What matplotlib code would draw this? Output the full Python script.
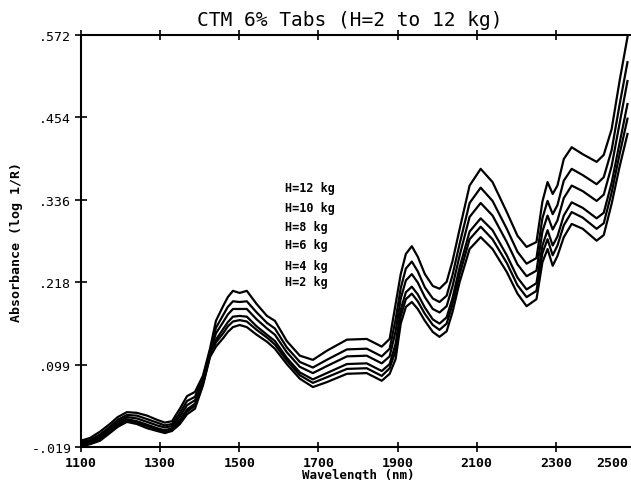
import numpy as np
import matplotlib
matplotlib.use("Agg")
import matplotlib.pyplot as plt

# wavelengths (nm)
wavelength = [1100, 1123, 1148, 1173, 1193, 1216, 1241, 1267, 1292, 1312,
              1330, 1350, 1368, 1388, 1408, 1426, 1441, 1459, 1471, 1484,
              1501, 1519, 1544, 1570, 1590, 1620, 1653, 1686, 1721, 1772,
              1822, 1860, 1880, 1895, 1908, 1921, 1936, 1951, 1969, 1989,
              2006, 2024, 2039, 2057, 2082, 2110, 2140, 2176, 2203, 2226,
              2251, 2266, 2279, 2292, 2304, 2320, 2340, 2368, 2403, 2421,
              2441, 2461, 2481]

# absorbance (log 1/R), one list per compression force
h12 = [-0.010, -0.006, 0.003, 0.014, 0.024, 0.031, 0.030, 0.026, 0.020, 0.016,
       0.018, 0.036, 0.054, 0.060, 0.083, 0.122, 0.162, 0.183, 0.196, 0.205,
       0.202, 0.205, 0.186, 0.169, 0.162, 0.133, 0.112, 0.106, 0.119, 0.135,
       0.136, 0.125, 0.136, 0.186, 0.229, 0.258, 0.269, 0.254, 0.229, 0.212,
       0.208, 0.218, 0.248, 0.294, 0.356, 0.380, 0.361, 0.318, 0.284, 0.268,
       0.275, 0.333, 0.361, 0.344, 0.356, 0.394, 0.411, 0.401, 0.390, 0.400,
       0.437, 0.506, 0.569]
h10 = [-0.012, -0.009, -0.001, 0.010, 0.020, 0.027, 0.026, 0.021, 0.016, 0.012,
       0.014, 0.030, 0.047, 0.053, 0.079, 0.119, 0.152, 0.170, 0.182, 0.190,
       0.189, 0.190, 0.174, 0.159, 0.151, 0.124, 0.103, 0.095, 0.106, 0.121,
       0.122, 0.111, 0.122, 0.164, 0.209, 0.237, 0.247, 0.233, 0.210, 0.194,
       0.189, 0.198, 0.228, 0.273, 0.331, 0.353, 0.334, 0.294, 0.261, 0.244,
       0.252, 0.309, 0.334, 0.315, 0.328, 0.363, 0.380, 0.371, 0.358, 0.368,
       0.407, 0.472, 0.533]
h8 = [-0.014, -0.011, -0.004, 0.008, 0.017, 0.024, 0.022, 0.017, 0.012, 0.009,
      0.011, 0.025, 0.041, 0.048, 0.076, 0.116, 0.144, 0.160, 0.171, 0.179,
      0.179, 0.179, 0.164, 0.151, 0.142, 0.117, 0.096, 0.087, 0.097, 0.111,
      0.112, 0.101, 0.111, 0.147, 0.194, 0.220, 0.229, 0.217, 0.196, 0.179,
      0.174, 0.183, 0.212, 0.256, 0.311, 0.331, 0.313, 0.275, 0.243, 0.226,
      0.234, 0.290, 0.313, 0.293, 0.306, 0.338, 0.356, 0.348, 0.334, 0.343,
      0.384, 0.445, 0.506]
h6 = [-0.016, -0.012, -0.006, 0.005, 0.014, 0.021, 0.018, 0.013, 0.008, 0.005,
      0.008, 0.020, 0.035, 0.043, 0.073, 0.113, 0.135, 0.150, 0.160, 0.168,
      0.169, 0.168, 0.154, 0.142, 0.133, 0.109, 0.088, 0.078, 0.087, 0.100,
      0.101, 0.090, 0.100, 0.129, 0.178, 0.203, 0.211, 0.200, 0.181, 0.164,
      0.158, 0.167, 0.195, 0.239, 0.290, 0.309, 0.292, 0.256, 0.224, 0.207,
      0.216, 0.270, 0.292, 0.270, 0.283, 0.313, 0.332, 0.324, 0.309, 0.317,
      0.360, 0.417, 0.473]
h4 = [-0.017, -0.014, -0.008, 0.003, 0.012, 0.019, 0.016, 0.011, 0.006, 0.003,
      0.006, 0.017, 0.032, 0.040, 0.071, 0.112, 0.131, 0.144, 0.154, 0.161,
      0.163, 0.161, 0.149, 0.138, 0.128, 0.105, 0.084, 0.073, 0.081, 0.093,
      0.094, 0.083, 0.094, 0.119, 0.169, 0.193, 0.201, 0.190, 0.172, 0.156,
      0.149, 0.158, 0.186, 0.229, 0.279, 0.297, 0.279, 0.245, 0.213, 0.196,
      0.205, 0.259, 0.279, 0.256, 0.270, 0.299, 0.318, 0.310, 0.294, 0.302,
      0.346, 0.401, 0.452]
h2 = [-0.018, -0.015, -0.010, 0.001, 0.010, 0.017, 0.014, 0.008, 0.004, 0.001,
      0.004, 0.014, 0.028, 0.036, 0.069, 0.110, 0.125, 0.137, 0.146, 0.153,
      0.156, 0.153, 0.142, 0.132, 0.122, 0.100, 0.079, 0.067, 0.074, 0.086,
      0.087, 0.076, 0.086, 0.107, 0.158, 0.182, 0.189, 0.179, 0.162, 0.146,
      0.139, 0.147, 0.175, 0.218, 0.265, 0.282, 0.265, 0.232, 0.201, 0.183,
      0.193, 0.246, 0.265, 0.241, 0.255, 0.282, 0.301, 0.294, 0.277, 0.285,
      0.330, 0.383, 0.430]

series = [h12, h10, h8, h6, h4, h2]
labels = ["H=12 kg", "H=10 kg", "H=8 kg", "H=6 kg", "H=4 kg", "H=2 kg"]
label_y = [0.353, 0.325, 0.298, 0.271, 0.242, 0.219]

yticks = [-0.019, 0.099, 0.218, 0.336, 0.454, 0.572]
ytick_labels = ["-.019", ".099", ".218", ".336", ".454", ".572"]
xticks = [1100, 1300, 1500, 1700, 1900, 2100, 2300, 2500]

plt.rcParams['font.family'] = ['DejaVu Sans Mono']

fig = plt.figure(figsize=(6.31, 4.81), dpi=100)
ax = fig.add_axes([81 / 631, 33 / 481, 554 / 631, 412 / 481])

for s in series:
    ax.plot(wavelength, s, color='black', lw=1.6, solid_joinstyle='round')

for lab, ly in zip(labels, label_y):
    ax.text(1615, ly, lab, fontsize=8.5, fontweight='bold', va='center', ha='left')

ax.set_xlim(1100, 2500)
ax.set_ylim(-0.019, 0.572)
ax.set_xticks(xticks)
# the 2500 tick falls just past the page edge, so its label is drawn separately
ax.set_xticklabels([str(x) for x in xticks[:-1]] + [""], fontsize=9.5, fontweight='bold')
ax.set_yticks(yticks)
ax.set_yticklabels(ytick_labels, fontsize=9.5)

ax.spines['right'].set_visible(False)
for sp in ['left', 'top', 'bottom']:
    ax.spines[sp].set_linewidth(1.5)
ax.tick_params(axis='x', which='both', top=True, direction='inout', length=7, width=1.2, pad=3)
ax.tick_params(axis='y', direction='inout', length=8, width=1.2, pad=3)

ax.annotate(str(xticks[-1]), xy=(1.0, 0), xycoords=('figure fraction', 'axes fraction'),
            xytext=(-2, -6.5), textcoords='offset points', ha='right', va='top',
            fontsize=9.5, fontweight='bold')

ax.set_xlabel("Wavelength (nm)", fontsize=9, fontweight='bold', labelpad=-1)
ax.set_ylabel("Absorbance (log 1/R)", fontsize=9.5, fontweight='bold', labelpad=6)
fig.text(350 / 631, 1 - 20 / 481, "CTM 6% Tabs (H=2 to 12 kg)", fontsize=14,
         ha='center', va='center')

fig.savefig("out.png", dpi=100)
